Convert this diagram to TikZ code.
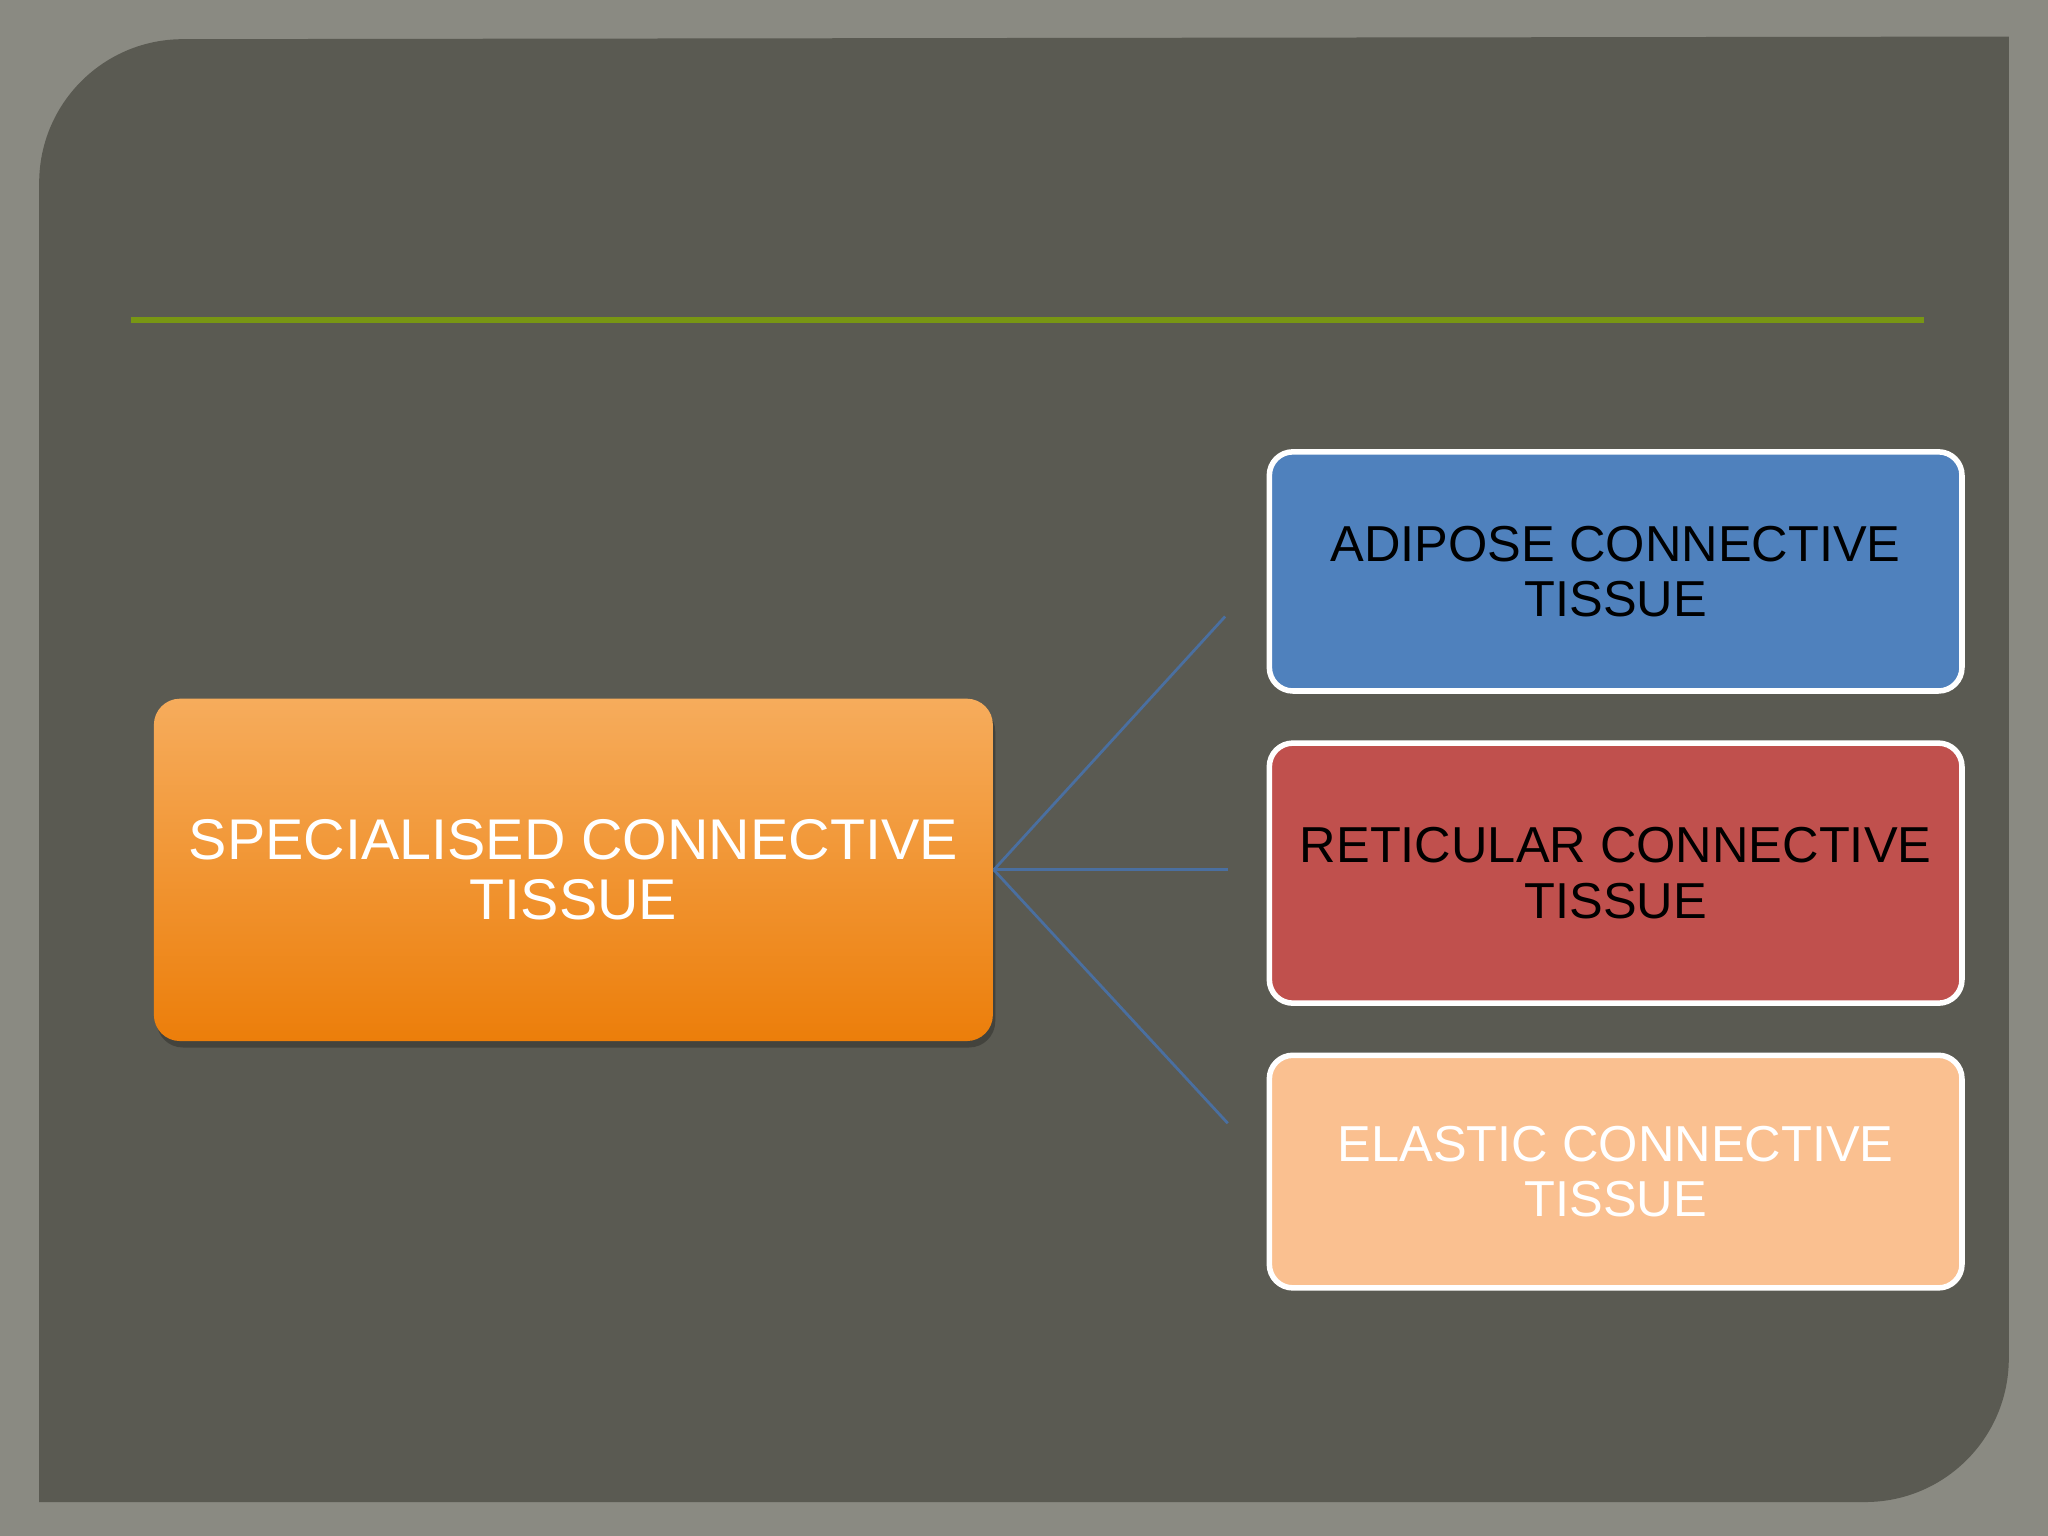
\documentclass[tikz,border=0pt]{standalone}
\usepackage{fontspec}
\setmainfont{Liberation Sans}
\begin{document}
\begin{tikzpicture}[x=0.01cm,y=-0.01cm,
  box/.style={draw=white,line width=1.2pt,rounded corners=0.18cm,align=center,font=\fontsize{11}{12}\selectfont,inner sep=0pt},
  conn/.style={draw={rgb,255:red,74;green,111;blue,160},line width=0.6pt}]
\definecolor{bgout}{RGB}{138,138,130}
\definecolor{panel}{RGB}{90,90,82}
\definecolor{olive}{RGB}{120,150,20}
\definecolor{ob1}{RGB}{246,172,92}
\definecolor{ob2}{RGB}{236,126,10}
\definecolor{bl}{RGB}{79,129,189}
\definecolor{rd}{RGB}{192,80,77}
\definecolor{pe}{RGB}{250,192,144}
\fill[bgout] (0,0) rectangle (1568,1176);
\useasboundingbox (0,0) rectangle (1568,1176);
\fill[panel] (30,1150) -- (30,140) arc[start angle=180,end angle=270,radius=110] -- (1538,28) -- (1538,1040) arc[start angle=0,end angle=90,radius=110] -- cycle;
\draw[olive,line width=1.2pt] (100,245) -- (1473,245);
\fill[black,opacity=0.25,rounded corners=0.2cm] (120,540) rectangle (762,802);
\node[rounded corners=0.2cm,top color=ob1,bottom color=ob2,minimum width=6.42cm,minimum height=2.62cm,align=center,text=white,font=\fontsize{12.5}{13}\selectfont,inner sep=0pt] (s) at (439,666) {SPECIALISED CONNECTIVE\\TISSUE};
\node[box,fill=bl,minimum width=5.3cm,minimum height=1.83cm] (a) at (1237,437.5) {ADIPOSE CONNECTIVE\\TISSUE};
\node[box,fill=rd,minimum width=5.3cm,minimum height=1.99cm] (r) at (1237,668.5) {RETICULAR CONNECTIVE\\TISSUE};
\node[box,fill=pe,text=white,minimum width=5.3cm,minimum height=1.78cm] (e) at (1237,897) {ELASTIC CONNECTIVE\\TISSUE};
\coordinate (c1) at (938,472);
\coordinate (c2) at (940,666);
\coordinate (c3) at (940,860);
\draw[conn] (s.east) -- (c1);
\draw[conn] (s.east) -- (c2);
\draw[conn] (s.east) -- (c3);
\end{tikzpicture}
\end{document}
